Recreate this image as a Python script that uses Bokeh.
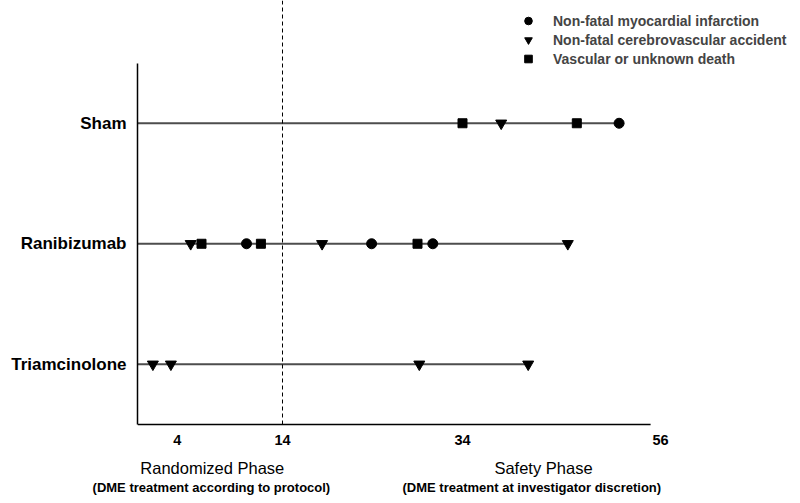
from bokeh.plotting import figure
from bokeh.models import (Range1d, FixedTicker, Span, Legend, LegendItem,
                          ColumnDataSource, LinearAxis)
from bokeh.embed import file_html
from bokeh.resources import INLINE

# ---------------- data ----------------
categories = ["Triamcinolone", "Ranibizumab", "Sham"]   # bottom -> top

mi_group = ["Sham", "Ranibizumab", "Ranibizumab", "Ranibizumab"]
mi_time = [51.4, 10.0, 23.9, 30.7]

cva_group = ["Sham", "Ranibizumab", "Ranibizumab", "Ranibizumab",
             "Triamcinolone", "Triamcinolone", "Triamcinolone", "Triamcinolone"]
cva_time = [38.3, 3.8, 18.4, 45.7, -0.4, 1.6, 29.2, 41.3]

death_group = ["Sham", "Sham", "Ranibizumab", "Ranibizumab", "Ranibizumab"]
death_time = [34.0, 46.7, 5.0, 11.6, 29.0]

series_labels = ["Non-fatal myocardial infarction",
                 "Non-fatal cerebrovascular accident",
                 "Vascular or unknown death"]

tick_values = [2.3, 14, 34, 56]
tick_labels = ["4", "14", "34", "56"]
phase_end = 14
phase_names = ["Randomized Phase", "Safety Phase"]
phase_notes = ["(DME treatment according to protocol)",
               "(DME treatment at investigator discretion)"]

# ---------------- layout ----------------
PX_X = 9.0          # px per x unit
PX_Y = 120.5        # px per row
X_START = 14 - 145 / PX_X
X_END = X_START + 663 / PX_X
X_AXIS_END = 54.9
Y_AXIS = 0.5
Y_LO = Y_AXIS - 2 / PX_Y
Y_HI = Y_AXIS + 424 / PX_Y
FONT = "Liberation Sans"
phase_label_x = [6.2, 43.0]
phase_note_x = [6.1, 41.7]

ypos = {c: i + 1 for i, c in enumerate(categories)}

p = figure(width=800, height=503, output_backend="svg", toolbar_location=None,
           x_range=Range1d(X_START, X_END), y_range=Range1d(Y_LO, Y_HI),
           min_border_left=137, min_border_right=0, min_border_top=0,
           min_border_bottom=77)
p.outline_line_color = None
p.xgrid.visible = False
p.ygrid.visible = False
p.background_fill_color = "white"
p.border_fill_color = "white"

# bottom axis line
p.segment(x0=[X_START], y0=[Y_AXIS], x1=[X_AXIS_END], y1=[Y_AXIS],
          line_color="black", line_width=1.5)

# row lines
all_groups = mi_group + cva_group + death_group
all_times = mi_time + cva_time + death_time
row_end = [max(t for g, t in zip(all_groups, all_times) if g == c) for c in categories]
p.segment(x0=[X_START] * len(categories), y0=[ypos[c] for c in categories],
          x1=row_end, y1=[ypos[c] for c in categories],
          line_color="#4d4d4d", line_width=2)

# phase boundary
p.add_layout(Span(location=phase_end, dimension="height", line_color="black",
                  line_width=1, line_dash="4 3"))

src_mi = ColumnDataSource(dict(x=mi_time, y=[ypos[g] for g in mi_group]))
src_cva = ColumnDataSource(dict(x=cva_time, y=[ypos[g] for g in cva_group]))
src_d = ColumnDataSource(dict(x=death_time, y=[ypos[g] for g in death_group]))

r_mi = p.scatter("x", "y", source=src_mi, marker="circle", size=10,
                 fill_color="black", line_color="black")
r_cva = p.scatter("x", "y", source=src_cva, marker="inverted_triangle", size=11,
                  fill_color="black", line_color="black")
r_d = p.scatter("x", "y", source=src_d, marker="square", size=9,
                fill_color="black", line_color="black")


def style_x(ax, ticks, labels, size, bold, standoff):
    ax.ticker = FixedTicker(ticks=ticks)
    ax.major_label_overrides = {v: l for v, l in zip(ticks, labels)}
    ax.major_tick_line_color = None
    ax.minor_tick_line_color = None
    ax.major_tick_out = 0
    ax.major_tick_in = 0
    ax.minor_tick_out = 0
    ax.minor_tick_in = 0
    ax.axis_line_color = None
    ax.major_label_text_font = FONT
    ax.major_label_text_font_style = "bold" if bold else "normal"
    ax.major_label_text_font_size = size
    ax.major_label_text_color = "black"
    ax.major_label_standoff = standoff


style_x(p.xaxis[0], tick_values, tick_labels, "14.5px", True, 8)
ax2 = LinearAxis()
style_x(ax2, phase_label_x, phase_names, "16.5px", False, 11)
p.add_layout(ax2, "below")
ax3 = LinearAxis()
style_x(ax3, phase_note_x, phase_notes, "13px", True, 0)
p.add_layout(ax3, "below")

ya = p.yaxis[0]
ya.ticker = FixedTicker(ticks=[ypos[c] for c in categories])
ya.major_label_overrides = {ypos[c]: c for c in categories}
ya.major_tick_line_color = None
ya.minor_tick_line_color = None
ya.major_tick_out = 0
ya.major_tick_in = 0
ya.axis_line_color = "black"
ya.axis_line_width = 1.5
ya.bounds = (Y_AXIS, len(categories) + 0.5)
ya.major_label_text_font = FONT
ya.major_label_text_font_style = "bold"
ya.major_label_text_font_size = "17px"
ya.major_label_text_color = "black"
ya.major_label_standoff = 11

legend = Legend(items=[LegendItem(label=series_labels[0], renderers=[r_mi]),
                       LegendItem(label=series_labels[1], renderers=[r_cva]),
                       LegendItem(label=series_labels[2], renderers=[r_d])],
                location=(381, 358))
legend.border_line_alpha = 0
legend.background_fill_alpha = 0
legend.label_text_font = FONT
legend.label_text_font_style = "bold"
legend.label_text_font_size = "14px"
legend.glyph_width = 20
legend.glyph_height = 19
legend.label_height = 19
legend.spacing = 0
legend.padding = 0
legend.margin = 0
legend.label_standoff = 15
p.add_layout(legend, "center")

open("out.html", "w").write(file_html(p, INLINE))
